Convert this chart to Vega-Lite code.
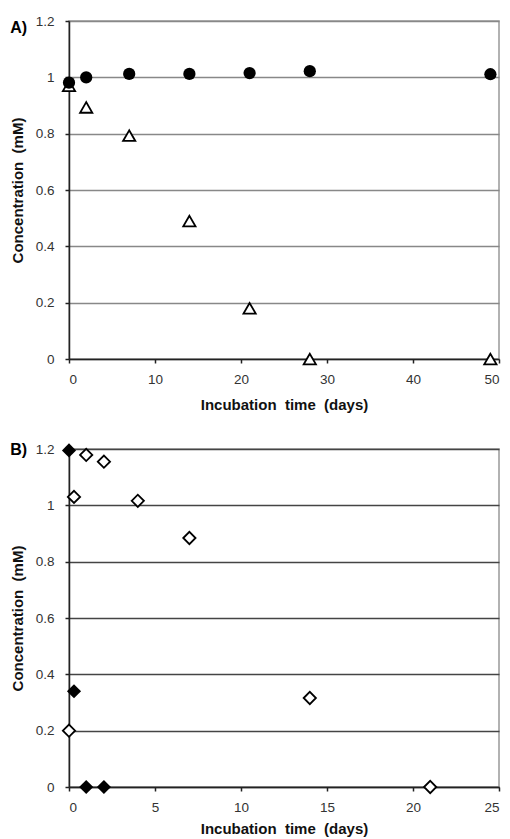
{
  "$schema": "https://vega.github.io/schema/vega-lite/v6.json",
  "padding": {"left": 9, "top": 13, "right": 3, "bottom": 0},
  "spacing": 27,
  "datasets": {
    "a_circle": [
      {"day": 0, "conc": 0.981}, {"day": 2, "conc": 1.0}, {"day": 7, "conc": 1.012},
      {"day": 14, "conc": 1.012}, {"day": 21, "conc": 1.015}, {"day": 28, "conc": 1.022}, {"day": 49, "conc": 1.011}
    ],
    "a_triangle": [
      {"day": 0, "conc": 0.97}, {"day": 2, "conc": 0.893}, {"day": 7, "conc": 0.793},
      {"day": 14, "conc": 0.49}, {"day": 21, "conc": 0.18}, {"day": 28, "conc": 0.0}, {"day": 49, "conc": 0.0}
    ],
    "b_filled": [
      {"day": 0, "conc": 1.195}, {"day": 0.29, "conc": 0.34}, {"day": 1, "conc": 0.0}, {"day": 2.03, "conc": 0.0}
    ],
    "b_open": [
      {"day": 0, "conc": 0.2}, {"day": 0.29, "conc": 1.03}, {"day": 1, "conc": 1.179}, {"day": 2.03, "conc": 1.155},
      {"day": 4, "conc": 1.016}, {"day": 7, "conc": 0.884}, {"day": 14, "conc": 0.316}, {"day": 21, "conc": 0.0}
    ]
  },
  "config": {
    "font": "Liberation Sans",
    "view": {"stroke": "#999999", "strokeWidth": 1.5},
    "axis": {
      "labelFont": "Liberation Sans", "labelFontSize": 13.5, "labelColor": "#333333",
      "titleFont": "Liberation Sans", "titleFontSize": 15, "titleFontWeight": "bold", "titleColor": "#111111",
      "domainColor": "#222222", "domainWidth": 1.5, "tickColor": "#222222", "tickWidth": 1.5, "tickSize": 4
    },
    "title": {"font": "Liberation Sans", "fontSize": 16, "fontWeight": "bold", "color": "#000000", "anchor": "start", "frame": "bounds", "offset": 0}
  },
  "vconcat": [
    {
      "width": 430, "height": 338,
      "title": {"text": "A)", "dy": 26},
      "encoding": {
        "x": {"field": "day", "type": "quantitative", "scale": {"domain": [0, 50], "nice": false},
              "axis": {"title": "Incubation\u00a0 time\u00a0 (days)", "values": [0, 10, 20, 30, 40, 50], "grid": false, "labelPadding": 9, "titlePadding": 12}},
        "y": {"field": "conc", "type": "quantitative", "scale": {"domain": [0, 1.2], "nice": false},
              "axis": {"title": "Concentration\u00a0 (mM)", "values": [0, 0.2, 0.4, 0.6, 0.8, 1, 1.2], "format": "~g", "grid": true, "gridColor": "#888888", "gridWidth": 1.5, "labelPadding": 11, "titlePadding": 10}}
      },
      "layer": [
        {"data": {"name": "a_triangle"}, "mark": {"type": "point", "shape": "triangle-up", "filled": true, "fill": "#ffffff", "stroke": "#000000", "strokeWidth": 1.8, "size": 150, "opacity": 1}},
        {"data": {"name": "a_circle"}, "mark": {"type": "point", "shape": "circle", "filled": true, "color": "#000000", "size": 150, "opacity": 1}}
      ]
    },
    {
      "width": 430, "height": 338,
      "title": {"text": "B)", "dy": 20},
      "encoding": {
        "x": {"field": "day", "type": "quantitative", "scale": {"domain": [0, 25], "nice": false},
              "axis": {"title": "Incubation\u00a0 time\u00a0 (days)", "values": [0, 5, 10, 15, 20, 25], "grid": false, "labelPadding": 9, "titlePadding": 8}},
        "y": {"field": "conc", "type": "quantitative", "scale": {"domain": [0, 1.2], "nice": false},
              "axis": {"title": "Concentration\u00a0 (mM)", "values": [0, 0.2, 0.4, 0.6, 0.8, 1, 1.2], "format": "~g", "grid": true, "gridColor": "#444444", "gridWidth": 1.5, "labelPadding": 11, "titlePadding": 10}}
      },
      "layer": [
        {"data": {"name": "b_open"}, "mark": {"type": "point", "shape": "diamond", "filled": true, "fill": "#ffffff", "stroke": "#000000", "strokeWidth": 1.8, "size": 150, "opacity": 1}},
        {"data": {"name": "b_filled"}, "mark": {"type": "point", "shape": "diamond", "filled": true, "color": "#000000", "size": 200, "opacity": 1}}
      ]
    }
  ]
}
